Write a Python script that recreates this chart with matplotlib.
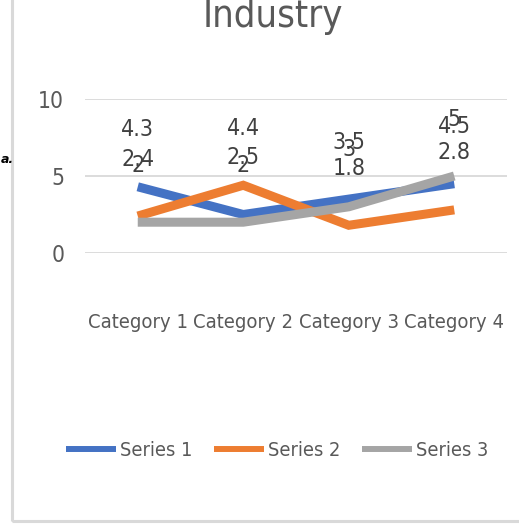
import matplotlib
matplotlib.use('Agg')
import matplotlib.pyplot as plt
from matplotlib import font_manager
from matplotlib.lines import Line2D
from matplotlib.patches import Rectangle

categories = ['Category 1', 'Category 2', 'Category 3', 'Category 4']
series_names = ['Series 1', 'Series 2', 'Series 3']
series_1 = [4.3, 2.5, 3.5, 4.5]
series_2 = [2.4, 4.4, 1.8, 2.8]
series_3 = [2, 2, 3, 5]
yticks = [0, 5, 10]
colors = ['#4472C4', '#ED7D31', '#A5A5A5']


def narrow_font():
  # look for any condensed / narrow face, the reference text is very condensed
  for f in font_manager.fontManager.ttflist:
    nm = (f.name + ' ' + f.fname).lower()
    if ('narrow' in nm or 'condensed' in nm) and 'bold' not in nm and 'italic' not in nm \
       and 'oblique' not in nm and 'mono' not in nm and 'cjk' not in nm:
      return font_manager.FontProperties(fname=f.fname)
  return font_manager.FontProperties(family='Liberation Sans')


fp = narrow_font()
W, H = 519, 525
fig = plt.figure(figsize=(W / 100, H / 100), dpi=100)
renderer = fig.canvas.get_renderer()


def fit_size(text, width_px, size=20):
  t = fig.text(0, 0, text, fontproperties=fp, fontsize=size)
  w = t.get_window_extent(renderer).width
  t.remove()
  return size * width_px / w


title_fs = fit_size('Industry', 140)
ytick_fs = fit_size('10', 26)
cat_fs = fit_size('Category 1', 100)
lab_fs = fit_size('4.3', 33)
leg_fs = fit_size('Series 1', 72)

# plot area in pixels: x 85..507, y 99..253
ax = fig.add_axes([85 / W, 1 - 253 / H, (507 - 85) / W, (253 - 99) / H])

x = list(range(len(categories)))
for vals, col in zip([series_1, series_2, series_3], colors):
  ax.plot(x, vals, color=col, lw=6.5, solid_capstyle='butt', solid_joinstyle='miter', zorder=3)

for vals in [series_1, series_2, series_3]:
  for xi, v in zip(x, vals):
    ax.annotate('%g' % v, (xi, v), xytext=(0, 41), textcoords='offset points',
                ha='center', va='center', fontproperties=fp, fontsize=lab_fs,
                color='#404040', zorder=4)

ax.set_xlim(-0.5, len(categories) - 0.5)
ax.set_ylim(0, 10)
ax.set_yticks(yticks)
ax.set_xticks(x)
ax.set_xticklabels(categories)
for t in ax.get_yticklabels():
  t.set_fontproperties(fp)
  t.set_fontsize(ytick_fs)
for t in ax.get_xticklabels():
  t.set_fontproperties(fp)
  t.set_fontsize(cat_fs)
ax.tick_params(axis='y', length=0, pad=15, labelcolor='#595959')
ax.tick_params(axis='x', length=0, pad=43, labelcolor='#595959')
ax.grid(axis='y', color='#D9D9D9', lw=1.3)
ax.set_axisbelow(True)
for s in ax.spines.values():
  s.set_visible(False)

fig.text(273 / W, 1 - 27 / H, 'Industry', ha='center', va='baseline',
         fontproperties=fp, fontsize=title_fs, color='#595959')

handles = [Line2D([0], [0], color=c, lw=4.3, solid_capstyle='butt') for c in colors]
leg_prop = fp.copy()
leg_prop.set_size(leg_fs)
fig.legend(handles, series_names, ncol=3, loc='center', bbox_to_anchor=(277 / W, 1 - 450 / H),
           frameon=False, prop=leg_prop, labelcolor='#595959',
           handlelength=50 / (leg_fs * 100 / 72), handletextpad=0.2, columnspacing=1.1)

# chart border (only left and bottom visible in the crop)
fig.patches.append(Rectangle((12 / W, 1 - 521 / H), 1.0, 1.0, transform=fig.transFigure,
                             fill=False, edgecolor='#D9D9D9', lw=2.2))
fig.text(1 / W, 1 - 163 / H, 'a.', fontsize=9, style='italic', weight='bold', color='black')

fig.savefig('out.png', dpi=100)
